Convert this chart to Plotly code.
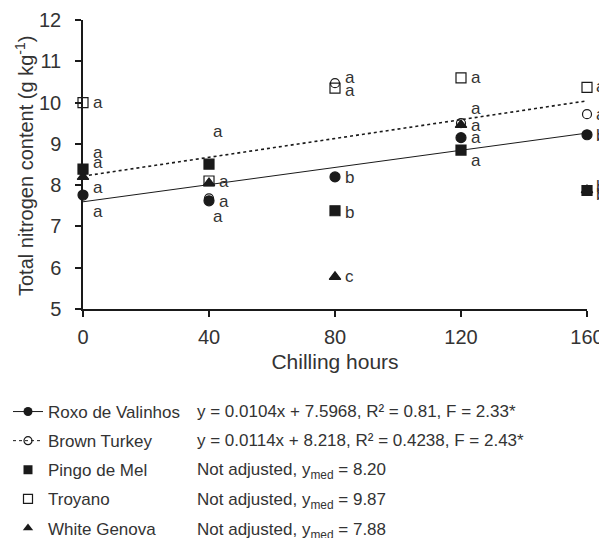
import plotly.graph_objects as go

hours = [0, 40, 80, 120, 160]
roxo = [7.76, 7.62, 8.20, 9.15, 9.22]
brown = [8.35, 7.68, 10.47, 9.50, 9.72]
pingo = [8.39, 8.51, 7.38, 8.85, 7.87]
troyano = [10.00, 8.10, 10.35, 10.60, 10.37]
white = [8.20, 8.05, 5.78, 9.46, 7.88]

fit_roxo = (0.0104, 7.5968)
fit_brown = (0.0114, 8.218)

# letter labels: (cluster x, label y, letter)
lab_x = [0, 0, 0, 0, 0,
         40, 40, 40, 40,
         80, 80, 80, 80, 80,
         120, 120, 120, 120, 120,
         160, 160, 160, 160, 160]
lab_y = [10.0, 8.8, 8.55, 7.95, 7.35,
         9.3, 8.1, 7.6, 7.25,
         10.6, 10.3, 8.18, 7.33, 5.78,
         10.6, 9.85, 9.45, 9.15, 8.6,
         10.38, 9.72, 9.2, 7.97, 7.78]
lab_t = ["a", "a", "a", "a", "a",
         "a", "a", "a", "a",
         "a", "a", "b", "b", "c",
         "a", "a", "a", "a", "a",
         "a", "a", "b", "b", "b"]
lab_dx = [0, 0, 0, 0, 0,
          -6, 0, 0, -6,
          0, 0, 0, 0, 0,
          0, 0, 0, 0, 0,
          -1, -1, -1, -1, -1]

legend_names = ["Roxo de Valinhos", "Brown Turkey", "Pingo de Mel", "Troyano", "White Genova"]
legend_eqs = ["y = 0.0104x + 7.5968, R² = 0.81, F = 2.33*",
              "y = 0.0114x + 8.218, R² = 0.4238, F = 2.43*",
              "Not adjusted, y<sub>med</sub> = 8.20",
              "Not adjusted, y<sub>med</sub> = 9.87",
              "Not adjusted, y<sub>med</sub> = 7.88"]

INK = "#1a1a1a"
TXT = "#333333"
FONT = "Liberation Sans, Arial, sans-serif"

# page layout (screen pixels; the page body adds an 8px offset)
OFF = 8
W, H = 599, 530
L, R, T, B = 83, 587, 20, 309


def px(sx):
    return (sx - L) / (R - L)


def py(sy):
    return (B - sy) / (B - T)


fig = go.Figure()

# regression lines
xs = [hours[0], hours[-1]]
fig.add_trace(go.Scatter(x=xs, y=[fit_roxo[0] * v + fit_roxo[1] for v in xs], mode="lines",
                         line=dict(color=INK, width=1), showlegend=False, hoverinfo="skip"))
fig.add_trace(go.Scatter(x=xs, y=[fit_brown[0] * v + fit_brown[1] for v in xs], mode="lines",
                         line=dict(color=INK, width=1.6, dash="dot"), showlegend=False, hoverinfo="skip"))

series = [
    (brown, "circle-open", 9),
    (troyano, "square-open", 10),
    (white, "triangle-up", 10),
    (pingo, "square", 10),
    (roxo, "circle", 10),
]
for ys, sym, sz in series:
    fig.add_trace(go.Scatter(x=hours, y=ys, mode="markers", cliponaxis=False, showlegend=False,
                             marker=dict(symbol=sym, size=sz, color=INK,
                                         line=dict(color=INK, width=1.2))))

# legend-only traces
leg_styles = [
    dict(mode="lines+markers", line=dict(color=INK, width=1), marker=dict(symbol="circle", size=9, color=INK)),
    dict(mode="lines+markers", line=dict(color=INK, width=1, dash="dot"),
         marker=dict(symbol="circle-open", size=8, color=INK, line=dict(width=1.2))),
    dict(mode="markers", marker=dict(symbol="square", size=9, color=INK)),
    dict(mode="markers", marker=dict(symbol="square-open", size=9, color=INK, line=dict(width=1.2))),
    dict(mode="markers", marker=dict(symbol="triangle-up", size=9, color=INK)),
]
for i, (nm, st) in enumerate(zip(legend_names, leg_styles)):
    fig.add_trace(go.Scatter(x=[None], y=[None], name=nm, legendgroup=f"g{i}", **st))

for x, y, t, dx in zip(lab_x, lab_y, lab_t, lab_dx):
    fig.add_annotation(x=x, y=y, text=t, showarrow=False, xanchor="left", yanchor="middle",
                       xshift=8 + dx, font=dict(size=17, color=TXT, family=FONT))

# equation column
for i, eq in enumerate(legend_eqs):
    fig.add_annotation(xref="paper", yref="paper", x=px(195), y=py(411 + 30 * i),
                       text=eq, showarrow=False, xanchor="left", yanchor="middle",
                       font=dict(size=17, color=TXT, family=FONT))

# y-axis title
fig.add_annotation(xref="paper", yref="paper", x=px(24), y=py(166), textangle=-90,
                   text="Total nitrogen content (g kg<sup>-1</sup>)", showarrow=False,
                   xanchor="center", yanchor="middle", font=dict(size=20, color=TXT, family=FONT))

fig.update_layout(
    width=W, height=H,
    margin=dict(l=L - OFF, r=W - (R - OFF), t=T - OFF, b=H - (B - OFF), autoexpand=False),
    paper_bgcolor="white", plot_bgcolor="white",
    font=dict(family=FONT, color=TXT),
    legend=dict(xref="container", yref="container", x=0.0, y=(H - 386) / H,
                xanchor="left", yanchor="top", tracegroupgap=4,
                font=dict(size=17, color=TXT, family=FONT), itemwidth=30,
                bgcolor="rgba(0,0,0,0)"),
    showlegend=True,
)
fig.update_xaxes(range=[0, 160], tickvals=hours, showline=True, linecolor=INK, linewidth=1.5,
                 ticks="outside", ticklen=6, tickcolor=INK, tickwidth=1.5, showgrid=False, zeroline=False,
                 tickfont=dict(size=20, color=TXT), ticklabelstandoff=3,
                 title=dict(text="Chilling hours", font=dict(size=21, color=TXT), standoff=8))
fig.update_yaxes(range=[5, 12], dtick=1, showline=True, linecolor=INK, linewidth=1.5,
                 ticks="outside", ticklen=6, tickcolor=INK, tickwidth=1.5, showgrid=False, zeroline=False,
                 tickfont=dict(size=20, color=TXT), ticklabelstandoff=10)

fig.write_html("out.html")
